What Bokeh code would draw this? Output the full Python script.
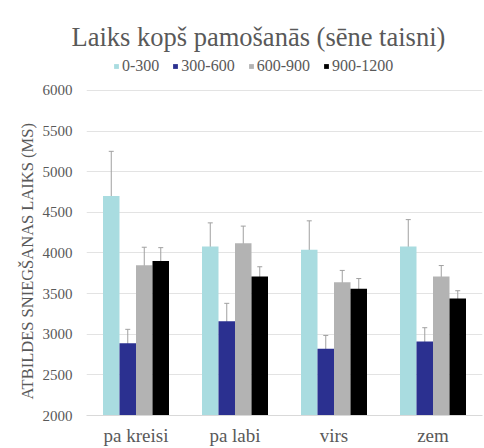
from bokeh.plotting import figure
from bokeh.models import ColumnDataSource, FactorRange, Legend, LegendItem, Whisker, TeeHead, Title
from bokeh.transform import dodge
from bokeh.embed import file_html
from bokeh.resources import INLINE

categories = ["pa kreisi", "pa labi", "virs", "zem"]
series_names = ["0-300", "300-600", "600-900", "900-1200"]
colors = ["#A9DCE0", "#2B3090", "#B3B3B3", "#000000"]

v_0_300 = [4700, 4080, 4040, 4080]
v_300_600 = [2890, 3160, 2820, 2910]
v_600_900 = [3850, 4120, 3640, 3710]
v_900_1200 = [3900, 3710, 3560, 3440]

e_0_300 = [550, 290, 355, 330]
e_300_600 = [170, 220, 165, 170]
e_600_900 = [220, 210, 145, 135]
e_900_1200 = [165, 120, 125, 95]

y_ticks = [2000, 2500, 3000, 3500, 4000, 4500, 5000, 5500, 6000]

values = [v_0_300, v_300_600, v_600_900, v_900_1200]
errors = [e_0_300, e_300_600, e_600_900, e_900_1200]
offsets = [-0.25, -1/12, 1/12, 0.25]

FONT = "Liberation Serif"
TXT = "#595959"

p = figure(x_range=FactorRange(factors=categories, range_padding=0),
           y_range=(2000, 6466), width=484, height=448,
           output_backend="svg", toolbar_location=None,
           min_border_left=86, min_border_right=2, min_border_bottom=32, min_border_top=52)

p.title.text = "Laiks kopš pamošanās (sēne taisni)"
p.title.text_font = FONT
p.title.text_font_size = "26.5px"
p.title.text_font_style = "normal"
p.title.text_color = TXT
p.title.align = "left"
p.title.standoff = 2
p.title.offset = -15

items = []
for name, col, vals, errs, off in zip(series_names, colors, values, errors, offsets):
    src = ColumnDataSource(dict(cat=categories, val=vals,
                                lo=[v - e for v, e in zip(vals, errs)],
                                hi=[v + e for v, e in zip(vals, errs)]))
    r = p.vbar(x=dodge("cat", off, range=p.x_range), top="val", bottom=2000,
               width=1/6, source=src, fill_color=col, line_color=None)
    items.append(LegendItem(label=name, renderers=[r]))
    w = Whisker(base=dodge("cat", off, range=p.x_range), lower="lo", upper="hi",
                source=src, line_color="#a0a0a0", line_width=1,
                lower_head=TeeHead(size=5, line_color="#a0a0a0", line_width=1),
                upper_head=TeeHead(size=5, line_color="#a0a0a0", line_width=1))
    p.add_layout(w)

legend = Legend(items=items, orientation="horizontal", location=(27, 340),
                label_text_font=FONT, label_text_font_size="16px", label_text_color=TXT,
                glyph_width=6, glyph_height=6, label_standoff=3, spacing=13,
                border_line_color=None, background_fill_alpha=0,
                padding=0, margin=0)
p.add_layout(legend, "center")

p.yaxis.ticker = y_ticks
p.yaxis.major_label_text_font = FONT
p.yaxis.major_label_text_font_size = "15px"
p.yaxis.major_label_text_color = TXT
p.yaxis.axis_line_color = None
p.yaxis.major_tick_line_color = None
p.yaxis.minor_tick_line_color = None
p.yaxis.major_tick_out = 0
p.yaxis.major_tick_in = 0
p.yaxis.major_label_standoff = 14

ylabel = Title(text="ATBILDES SNIEGŠANAS LAIKS (MS)", align="left", offset=16,
               text_font=FONT, text_font_size="16.5px", text_font_style="normal",
               text_color=TXT, standoff=6)
p.add_layout(ylabel, "left")

p.xaxis.major_label_text_font = FONT
p.xaxis.major_label_text_font_size = "19px"
p.xaxis.major_label_text_color = TXT
p.xaxis.axis_line_color = "#d9d9d9"
p.xaxis.major_tick_line_color = None
p.xaxis.minor_tick_line_color = None
p.xaxis.major_tick_out = 0
p.xaxis.major_tick_in = 0
p.xaxis.major_label_standoff = 9

p.xgrid.grid_line_color = None
p.ygrid.grid_line_color = "#e3e3e3"
p.outline_line_color = None
p.background_fill_color = "white"
p.border_fill_color = "white"

open("out.html", "w").write(file_html(p, INLINE))
